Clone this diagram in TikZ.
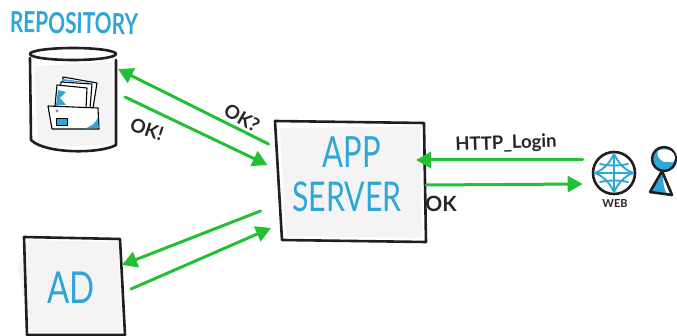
\documentclass[tikz,border=0pt]{standalone}
\usepackage{fontspec}
\setsansfont{Lato}
\usetikzlibrary{arrows.meta}
\definecolor{flowgreen}{HTML}{22C032}
\definecolor{inkblue}{HTML}{2FA6D8}
\definecolor{wash}{HTML}{F4F4F4}
\begin{document}
\begin{tikzpicture}[x=1pt,y=-1pt,line join=round,line cap=round,
  flow/.style={flowgreen,line width=3pt,-{Triangle[length=15pt,width=16pt]}},
  ink/.style={black!88,line width=2.6pt},
  hull/.style={minimum width=#1,inner sep=0pt,outer sep=0pt},
  bluetext/.style={inkblue,font=\sffamily},
  blacktext/.style={black!85,font=\sffamily\bfseries}]
\useasboundingbox (0,0) rectangle (677,336);

\fill[wash] (34,66) -- (112,62) -- (114,144) -- (38,148) -- cycle;
\fill[wash] (280,128) -- (420,126) -- (422,238) -- (286,236) -- cycle;
\fill[wash] (18,270) -- (27,240) -- (118,242) -- (122,332) -- (30,332) -- cycle;

\node[hull=86,minimum height=103] (repo) at (73,100) {};
\node[hull=149,minimum height=120] (app) at (350,181) {};
\node[hull=98,minimum height=98] (ad) at (73,286) {};
\node[circle,draw=black!88,line width=2.6pt,minimum size=42pt,inner sep=0pt] (web) at (614,173) {};

\draw[ink] (73,54) ellipse (43 and 6);
\draw[ink] (30,58) -- (31,140) .. controls (45,154) and (100,154) .. (116,145) -- (116,60);

\draw[black,line width=1.1pt,fill=white] (63,77) -- (97,83) -- (93,108) -- (63,104) -- cycle;
\draw[black,line width=1.1pt,fill=white] (61,82) -- (92,84) -- (90,108) -- (60,104) -- cycle;
\fill[inkblue] (63,79) -- (92,83) -- (62,81) -- cycle;
\draw[black,line width=1.1pt,fill=white] (57,85) -- (87,88) -- (86,109) -- (55,106) -- cycle;
\fill[inkblue] (58,90) -- (66,92) -- (60,98) -- (66,105) -- (56,105) -- cycle;
\draw[black,line width=1.1pt,fill=white] (48,106) -- (98,108) -- (99,129) -- (52,129) -- cycle;
\fill[inkblue] (98,117) -- (98.5,128) -- (85,128.5) .. controls (92,126) and (96,123) .. (98,117) -- cycle;
\draw[black,line width=.8pt,fill=inkblue] (56,118) rectangle (67,125);
\fill[inkblue] (57,111) circle (1.7);

\draw[ink] (275,121) -- (424,123) -- (426,242) -- (282,240) -- cycle;
\draw[ink] (24,237) -- (120,239) -- (125,335) -- (27,335) -- cycle;

\draw[flow] ([shift={(-7,23)}]app.north west) -- ([shift={(2,-31)}]repo.east);
\draw[flow] ([shift={(9,-3)}]repo.east) -- ([shift={(-8,-16)}]app.west);
\draw[flow] ([shift={(-15,-30)}]app.south west) -- ([shift={(0,-21)}]ad.east);
\draw[flow] ([shift={(9,3)}]ad.east) -- ([shift={(-4.5,-13)}]app.south west);
\draw[flow] ([shift={(-9,-13)}]web.west) -- ([shift={(-8.5,-21)}]app.east);
\draw[flow] ([shift={(1.5,4)}]app.east) -- ([shift={(-9,11)}]web.west);

\begin{scope}[shift={(614,173)},inkblue,line width=1.9pt]
\draw (-19,0) .. controls (-9,-4) and (-4,-11) .. (0,-19) .. controls (4,-11) and (9,-4) .. (19,0) .. controls (9,4) and (4,11) .. (0,19) .. controls (-4,11) and (-9,4) .. (-19,0) -- cycle;
\draw (0,-19) -- (0,19);
\draw (-19,0) -- (19,0);
\draw (-14,-9) .. controls (-5,-7) and (5,-7) .. (14,-9);
\draw (-14,9) .. controls (-5,7) and (5,7) .. (14,9);
\end{scope}

\fill[white] (662,171) -- (650,192) -- (672,195) -- cycle;
\fill[inkblue] (662,171) -- (650,192) -- (667,194) .. controls (662,186) and (664,178) .. (662,171) -- cycle;
\draw[ink] (662,171) -- (650,192) -- (672,195) -- cycle;
\node[circle,draw=black!88,fill=inkblue,line width=2.4pt,minimum size=24pt,inner sep=0pt] (head) at (664,159) {};
\fill[white] (658,151) .. controls (664,147) and (675,150) .. (675,158) .. controls (674,166) and (668,160) .. (664,162) .. controls (660,160) and (656,156) .. (658,151) -- cycle;

\node[bluetext,font=\sffamily\bfseries\fontsize{29}{29}\selectfont,rotate=-1,xscale=.72] (title) at (74,23) {REPOSITORY};
\node[bluetext,font=\sffamily\fontsize{43}{43}\selectfont,xscale=.72] (apptop) at (352,152) {APP};
\node[bluetext,font=\sffamily\fontsize{41}{41}\selectfont,xscale=.74] (appbottom) at (347,197) {SERVER};
\node[bluetext,font=\sffamily\fontsize{44}{44}\selectfont,xscale=.75] (adtext) at (71,288) {AD};

\node[blacktext,font=\sffamily\bfseries\fontsize{19}{19}\selectfont,rotate=-30] (ask) at (242,118) {OK?};
\node[blacktext,font=\sffamily\bfseries\fontsize{19}{19}\selectfont,rotate=-18] (okrepo) at (147,129) {OK!};
\node[blacktext,font=\sffamily\bfseries\fontsize{21}{21}\selectfont] (okapp) at (441,204) {OK};
\node[blacktext,font=\sffamily\bfseries\fontsize{18.5}{18.5}\selectfont,rotate=2] (login) at (506,144) {HTTP\_Login};
\node[blacktext,font=\sffamily\bfseries\fontsize{11}{11}\selectfont] (webtext) at (615,204) {WEB};
\end{tikzpicture}
\end{document}
